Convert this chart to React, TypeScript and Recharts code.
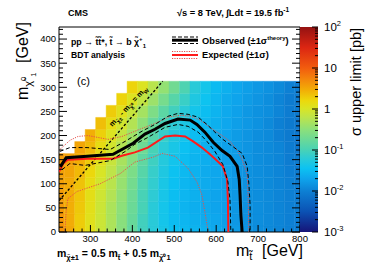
import React from "react";
import { ComposedChart, XAxis, YAxis, Line, ReferenceArea } from "recharts";

const W = 374;
const H = 268;
const FONT = '"Liberation Sans", Arial, Helvetica, sans-serif';

// scan grid (GeV)
const STOP_MASSES = [225, 250, 275, 300, 325, 350, 375, 400, 425, 450, 475, 500, 525, 550, 575, 600, 625, 650, 675, 700, 725, 750, 775, 800];
const LSP_MASSES = [0, 25, 50, 75, 100, 125, 150, 175, 200, 225, 250, 275, 300];

// sigma upper limit [pb] per stop mass, from m_LSP = 0 upwards
const lim225 = [4.5, 4.3, 4.0, 3.8, 3.6, 3.6, 3.9];
const lim250 = [3.2, 3.0, 2.9, 3.0, 3.1, 3.3, 3.6];
const lim275 = [1.9, 1.9, 2.0, 2.1, 2.2, 2.5, 2.9, 3.3];
const lim300 = [1.25, 1.2, 1.25, 1.3, 1.4, 1.6, 1.9, 2.4, 2.9];
const lim325 = [0.8, 0.8, 0.8, 0.85, 0.9, 1.0, 1.2, 1.4, 1.8, 2.3];
const lim350 = [0.5, 0.5, 0.5, 0.55, 0.6, 0.65, 0.75, 0.9, 1.1, 1.4, 1.9];
const lim375 = [0.3, 0.3, 0.32, 0.34, 0.37, 0.4, 0.47, 0.55, 0.7, 0.9, 1.2, 1.7];
const lim400 = [0.16, 0.17, 0.18, 0.19, 0.21, 0.24, 0.28, 0.34, 0.42, 0.55, 0.75, 1.1, 1.7];
const lim425 = [0.09, 0.09, 0.1, 0.1, 0.11, 0.13, 0.15, 0.19, 0.24, 0.32, 0.45, 0.7, 1.1];
const lim450 = [0.06, 0.06, 0.06, 0.065, 0.07, 0.075, 0.085, 0.1, 0.13, 0.17, 0.25, 0.4, 0.6];
const lim475 = [0.045, 0.042, 0.042, 0.044, 0.046, 0.05, 0.055, 0.062, 0.075, 0.1, 0.14, 0.22, 0.35];
const lim500 = [0.035, 0.032, 0.032, 0.033, 0.034, 0.036, 0.04, 0.045, 0.052, 0.065, 0.09, 0.13, 0.2];
const lim525 = [0.03, 0.028, 0.027, 0.028, 0.028, 0.03, 0.032, 0.035, 0.04, 0.047, 0.06, 0.08, 0.11];
const lim550 = [0.027, 0.025, 0.024, 0.025, 0.025, 0.026, 0.027, 0.029, 0.032, 0.036, 0.042, 0.05, 0.06];
const lim575 = [0.025, 0.023, 0.022, 0.022, 0.023, 0.023, 0.024, 0.025, 0.027, 0.03, 0.033, 0.037, 0.042];
const lim600 = [0.022, 0.021, 0.02, 0.02, 0.021, 0.021, 0.022, 0.022, 0.023, 0.025, 0.027, 0.029, 0.031];
const lim625 = [0.019, 0.018, 0.018, 0.018, 0.018, 0.019, 0.019, 0.019, 0.02, 0.021, 0.022, 0.023, 0.025];
const lim650 = [0.017, 0.016, 0.016, 0.016, 0.016, 0.016, 0.017, 0.017, 0.017, 0.018, 0.019, 0.02, 0.021];
const lim675 = [0.015, 0.014, 0.014, 0.014, 0.014, 0.014, 0.015, 0.015, 0.015, 0.016, 0.016, 0.017, 0.018];
const lim700 = [0.013, 0.013, 0.013, 0.013, 0.013, 0.013, 0.013, 0.013, 0.013, 0.014, 0.014, 0.015, 0.016];
const lim725 = [0.012, 0.012, 0.012, 0.012, 0.012, 0.012, 0.012, 0.012, 0.012, 0.012, 0.013, 0.013, 0.014];
const lim750 = [0.011, 0.011, 0.011, 0.011, 0.011, 0.011, 0.011, 0.011, 0.01, 0.01, 0.011, 0.011, 0.012];
const lim775 = [0.01, 0.01, 0.01, 0.01, 0.01, 0.0095, 0.009, 0.009, 0.0085, 0.0085, 0.009, 0.009, 0.01];
const lim800 = [0.0095, 0.0095, 0.0095, 0.009, 0.009, 0.0085, 0.0085, 0.008, 0.008, 0.008, 0.0085, 0.0085, 0.009];

const LIMIT_COLUMNS = [
  lim225, lim250, lim275, lim300, lim325, lim350, lim375, lim400, lim425, lim450, lim475, lim500,
  lim525, lim550, lim575, lim600, lim625, lim650, lim675, lim700, lim725, lim750, lim775, lim800,
];

// exclusion contours [m_stop, m_LSP]
const obsCentral = [[228, 135], [242, 154], [292, 157], [354, 161], [402, 184], [430, 203], [454, 213], [478, 225], [509, 234], [538, 232], [554, 223], [573, 207], [593, 186], [614, 169], [633, 157], [650, 136], [655, 109], [657, 77], [659, 35], [662, 0]];
const obsUp = [[227, 167], [251, 175], [292, 175], [347, 171], [383, 188], [423, 209], [454, 223], [485, 240], [509, 246], [533, 244], [557, 238], [578, 223], [597, 207], [616, 192], [640, 177], [662, 163], [674, 136], [678, 100], [681, 56], [681, 0]];
const obsDown = [[232, 129], [251, 142], [287, 138], [347, 148], [383, 167], [406, 182], [437, 196], [478, 217], [509, 223], [533, 219], [557, 207], [578, 188], [597, 167], [616, 140], [628, 104], [633, 67], [635, 0]];
const expCentral = [[225, 125], [235, 142], [246, 150], [292, 152], [354, 152], [375, 158], [406, 165], [437, 175], [478, 198], [502, 200], [526, 198], [545, 188], [566, 175], [585, 161], [597, 152], [616, 136], [626, 109], [628, 67], [629, 0]];
const expUp = [[227, 171], [251, 190], [270, 198], [294, 200], [318, 196], [342, 192], [375, 198], [418, 213], [454, 225], [485, 238], [514, 242], [538, 240], [562, 232], [585, 217], [609, 203], [633, 188], [652, 167], [664, 146], [674, 119], [676, 84], [678, 0]];
const expDown = [[239, 0], [242, 42], [246, 69], [268, 84], [323, 100], [371, 121], [406, 145], [449, 155], [471, 163], [502, 157], [533, 132], [554, 104], [566, 77], [573, 42], [581, 0]];
const wLine = [[225, 65], [472.5, 312.5]];

const X_TICKS = [240, 260, 280, 300, 320, 340, 360, 380, 400, 420, 440, 460, 480, 500, 520, 540, 560, 580, 600, 620, 640, 660, 680, 700, 720, 740, 760, 780, 800];
const Y_TICKS = [0, 10, 20, 30, 40, 50, 60, 70, 80, 90, 100, 110, 120, 130, 140, 150, 160, 170, 180, 190, 200, 210, 220, 230, 240, 250, 260, 270, 280, 290, 300, 310, 320, 330, 340, 350, 360, 370, 380, 390, 400, 410, 420];
const Z_TICKS = [
  0.001, 0.002, 0.003, 0.004, 0.005, 0.006, 0.007, 0.008, 0.009,
  0.01, 0.02, 0.03, 0.04, 0.05, 0.06, 0.07, 0.08, 0.09,
  0.1, 0.2, 0.3, 0.4, 0.5, 0.6, 0.7, 0.8, 0.9,
  1, 2, 3, 4, 5, 6, 7, 8, 9,
  10, 20, 30, 40, 50, 60, 70, 80, 90, 100,
];
const Z_RANGE = [0.001, 100];

// palette: log10(sigma) -> colour
const PALETTE: [number, string][] = [
  [-3, "#161478"],
  [-2.5, "#0b52b4"],
  [-2, "#0d80d4"],
  [-1.7, "#0ea4ec"],
  [-1.45, "#0cc2f2"],
  [-1.2, "#2ccbd6"],
  [-1, "#48d2b6"],
  [-0.5, "#8ce07a"],
  [-0.2, "#bde44a"],
  [0, "#d8e526"],
  [0.2, "#ecd90c"],
  [0.45, "#f2b006"],
  [0.75, "#f4820c"],
  [1, "#f25c0e"],
  [1.5, "#dc2612"],
  [2, "#941212"],
];

const hex = (c: string) => [1, 3, 5].map((i) => parseInt(c.slice(i, i + 2), 16));

function colorFor(v: number) {
  const l = Math.log10(v);
  if (l <= PALETTE[0][0]) return PALETTE[0][1];
  for (let i = 1; i < PALETTE.length; i++) {
    const [l1, c1] = PALETTE[i];
    if (l <= l1) {
      const [l0, c0] = PALETTE[i - 1];
      const t = (l - l0) / (l1 - l0);
      const a = hex(c0);
      const b = hex(c1);
      const rgb = a.map((x, k) => Math.round(x + (b[k] - x) * t));
      return `rgb(${rgb[0]},${rgb[1]},${rgb[2]})`;
    }
  }
  return PALETTE[PALETTE.length - 1][1];
}

const pts = (arr: number[][]) => arr.map(([x, y]) => ({ x, y }));

const txt = { fontFamily: FONT, fill: "#000" };

function XTick(props: any) {
  const { x, y, payload } = props;
  const major = payload.value % 100 === 0;
  return (
    <g>
      <line x1={x} x2={x} y1={y} y2={y - (major ? 7 : 3.5)} stroke="#000" strokeWidth={1} />
      {major && (
        <text x={x} y={y + 9.5} textAnchor="middle" fontSize={9.5} {...txt}>
          {payload.value}
        </text>
      )}
    </g>
  );
}

function YTick(props: any) {
  const { x, y, payload } = props;
  const major = payload.value % 50 === 0;
  return (
    <g>
      <line x1={x} x2={x + (major ? 8 : 4)} y1={y} y2={y} stroke="#000" strokeWidth={1} />
      {major && (
        <text x={x - 3} y={y + 3.4} textAnchor="end" fontSize={9.5} {...txt}>
          {payload.value}
        </text>
      )}
    </g>
  );
}

function YTickRight(props: any) {
  const { x, y, payload } = props;
  const major = payload.value % 50 === 0;
  return <line x1={x} x2={x - (major ? 8 : 4)} y1={y} y2={y} stroke="#000" strokeWidth={1} />;
}

function ZTick(props: any) {
  const { x, y, payload } = props;
  const v = payload.value;
  const e = Math.round(Math.log10(v));
  const major = Math.abs(Math.log10(v) - e) < 1e-6;
  let label: React.ReactNode = null;
  if (major) {
    if (e === 0) label = "1";
    else if (e === 1) label = "10";
    else
      label = (
        <>
          10
          <tspan dy={-5} fontSize={7.5}>
            {e}
          </tspan>
        </>
      );
  }
  return (
    <g>
      <line x1={x} x2={x - (major ? 6 : 3)} y1={y} y2={y} stroke="#000" strokeWidth={1} />
      {major && (
        <text x={x + 6} y={y + 4} fontSize={11.5} {...txt}>
          {label}
        </text>
      )}
    </g>
  );
}

export default function App() {
  const cells = STOP_MASSES.flatMap((m, i) =>
    LIMIT_COLUMNS[i].map((v, j) => {
      const c = colorFor(v);
      return (
        <ReferenceArea
          key={`cell-${m}-${j}`}
          x1={m - 12.5}
          x2={m + 12.5}
          y1={LSP_MASSES[j] - 12.5}
          y2={LSP_MASSES[j] + 12.5}
          fill={c}
          fillOpacity={1}
          stroke={c}
          strokeWidth={0.4}
          ifOverflow="hidden"
        />
      );
    })
  );

  return (
    <div style={{ position: "absolute", left: 0, top: 0, width: W, height: H, background: "#fff" }}>
      <svg width={0} height={0} style={{ position: "absolute" }}>
        <defs>
          <linearGradient id="zgrad" x1="0" y1="0" x2="0" y2="1">
            {PALETTE.slice()
              .reverse()
              .map(([l, c]) => (
                <stop key={l} offset={(2 - l) / 5} stopColor={c} />
              ))}
          </linearGradient>
        </defs>
      </svg>

      <div style={{ position: "absolute", left: 0, top: 0 }}>
        <ComposedChart width={W} height={H} margin={{ top: 27, right: 73, bottom: 0, left: 0 }}>
          <XAxis
            type="number"
            dataKey="x"
            domain={[225, 800]}
            allowDataOverflow
            ticks={X_TICKS}
            interval={0}
            height={36}
            tickSize={0}
            tickMargin={0}
            axisLine={false}
            tick={(p: any) => <XTick {...p} />}
          />
          <YAxis
            type="number"
            domain={[0, 425]}
            allowDataOverflow
            ticks={Y_TICKS}
            interval={0}
            width={59}
            tickSize={0}
            tickMargin={0}
            axisLine={false}
            tick={(p: any) => <YTick {...p} />}
          />
          <YAxis
            yAxisId="frame"
            orientation="right"
            type="number"
            domain={[0, 425]}
            allowDataOverflow
            ticks={Y_TICKS}
            interval={0}
            width={1}
            tickSize={0}
            tickMargin={0}
            axisLine={false}
            tick={(p: any) => <YTickRight {...p} />}
          />
          {cells}
          <ReferenceArea x1={225} x2={800} y1={0} y2={425} fill="none" stroke="#000" strokeWidth={1} ifOverflow="visible" />
          <Line data={pts(wLine)} dataKey="y" type="linear" stroke="#000" strokeWidth={1.3} strokeDasharray="2.5 2" dot={false} isAnimationActive={false} />
          <Line data={pts(expUp)} dataKey="y" type="linear" stroke="#e8504a" strokeWidth={1} strokeDasharray="1.2 1.2" dot={false} isAnimationActive={false} />
          <Line data={pts(expDown)} dataKey="y" type="linear" stroke="#e8504a" strokeWidth={1} strokeDasharray="1.2 1.2" dot={false} isAnimationActive={false} />
          <Line data={pts(expCentral)} dataKey="y" type="linear" stroke="#ff1a1a" strokeWidth={2} dot={false} isAnimationActive={false} />
          <Line data={pts(obsUp)} dataKey="y" type="linear" stroke="#000" strokeWidth={1} strokeDasharray="4 2.5" dot={false} isAnimationActive={false} />
          <Line data={pts(obsDown)} dataKey="y" type="linear" stroke="#000" strokeWidth={1} strokeDasharray="4 2.5" dot={false} isAnimationActive={false} />
          <Line data={pts(obsCentral)} dataKey="y" type="linear" stroke="#000" strokeWidth={3} dot={false} isAnimationActive={false} />
        </ComposedChart>
      </div>

      <div style={{ position: "absolute", left: 0, top: 0 }}>
        <ComposedChart
          width={W}
          height={H}
          data={[{ x: 0, z: Z_RANGE[0] }, { x: 1, z: Z_RANGE[1] }]}
          margin={{ top: 27, right: 55, bottom: 36, left: 300 }}
        >
          <XAxis type="number" dataKey="x" domain={[0, 1]} hide />
          <YAxis
            type="number"
            scale="log"
            domain={Z_RANGE}
            allowDataOverflow
            orientation="right"
            ticks={Z_TICKS}
            interval={0}
            width={1}
            tickSize={0}
            tickMargin={0}
            axisLine={false}
            tick={(p: any) => <ZTick {...p} />}
          />
          <ReferenceArea x1={0} x2={1} y1={Z_RANGE[0]} y2={Z_RANGE[1]} fill="url(#zgrad)" fillOpacity={1} stroke="none" ifOverflow="visible" />
          <Line dataKey="z" stroke="none" dot={false} activeDot={false} isAnimationActive={false} />
        </ComposedChart>
      </div>

      <svg width={W} height={H} style={{ position: "absolute", left: 0, top: 0, pointerEvents: "none" }}>
        <g fontFamily={FONT} fill="#000">
          <text x={68} y={15.5} fontSize={9} fontWeight="bold">CMS</text>
          <text x={177} y={15.5} fontSize={9.3} fontWeight="bold">
            √s = 8 TeV, ∫Ldt = 19.5 fb<tspan dy={-4} fontSize={6.5}>-1</tspan>
          </text>

          <text x={71} y={44.5} fontSize={8.8} fontWeight="bold">
            pp → t̃t̃*, t̃ → b χ̃<tspan dy={-3.5} fontSize={6}>+</tspan>
            <tspan dy={6.5} fontSize={6}>1</tspan>
          </text>
          <text x={71} y={57.5} fontSize={8.6} fontWeight="bold">BDT analysis</text>
          <text x={77} y={85} fontSize={11}>(c)</text>

          <line x1={172} x2={198} y1={37} y2={37} stroke="#000" strokeWidth={1} strokeDasharray="4 2" />
          <line x1={172} x2={198} y1={43.5} y2={43.5} stroke="#000" strokeWidth={1} strokeDasharray="4 2" />
          <line x1={172} x2={198} y1={40.2} y2={40.2} stroke="#000" strokeWidth={3} />
          <text x={202} y={44} fontSize={9.3} fontWeight="bold">
            Observed (±1σ<tspan dy={-4} fontSize={6}>theory</tspan>
            <tspan dy={4}>)</tspan>
          </text>
          <line x1={172} x2={198} y1={51.5} y2={51.5} stroke="#e8504a" strokeWidth={1} strokeDasharray="1.2 1.2" />
          <line x1={172} x2={198} y1={58.5} y2={58.5} stroke="#e8504a" strokeWidth={1} strokeDasharray="1.2 1.2" />
          <line x1={172} x2={198} y1={55} y2={55} stroke="#ff1a1a" strokeWidth={2} />
          <text x={202} y={58} fontSize={9.3} fontWeight="bold">Expected (±1σ)</text>

          <text transform="translate(130,108) rotate(-47)" textAnchor="middle" fontSize={7.5} fontWeight="bold">
            m<tspan dy={2.5} fontSize={5.5}>χ̃±</tspan>
            <tspan dy={-2.5}> - m</tspan>
            <tspan dy={2.5} fontSize={5.5}>χ̃⁰</tspan>
            <tspan dy={-2.5}> = m</tspan>
            <tspan dy={2.5} fontSize={5.5}>W</tspan>
          </text>

          <text x={236} y={256} fontSize={16}>
            m<tspan dy={4} fontSize={11}>t̃</tspan>
          </text>
          <text x={262} y={256} fontSize={16}>[GeV]</text>

          <text transform="translate(28,100) rotate(-90)" fontSize={16}>
            m<tspan dy={4} fontSize={11}>χ̃</tspan>
            <tspan dy={-6} fontSize={7.5}>0</tspan>
            <tspan dy={10} fontSize={7.5}>1</tspan>
          </text>
          <text transform="translate(28,63) rotate(-90)" fontSize={16}>[GeV]</text>

          <text x={57} y={257} fontSize={10.5} fontWeight="bold">
            m<tspan dy={3} fontSize={7.5}>χ̃±1</tspan>
            <tspan dy={-3}> = 0.5 m</tspan>
            <tspan dy={3} fontSize={7.5}>t̃</tspan>
            <tspan dy={-3}> + 0.5 m</tspan>
            <tspan dy={3} fontSize={7.5}>χ̃⁰1</tspan>
          </text>

          <text transform="translate(361,136) rotate(-90)" fontSize={14.5}>σ upper limit [pb]</text>
        </g>
      </svg>
    </div>
  );
}
